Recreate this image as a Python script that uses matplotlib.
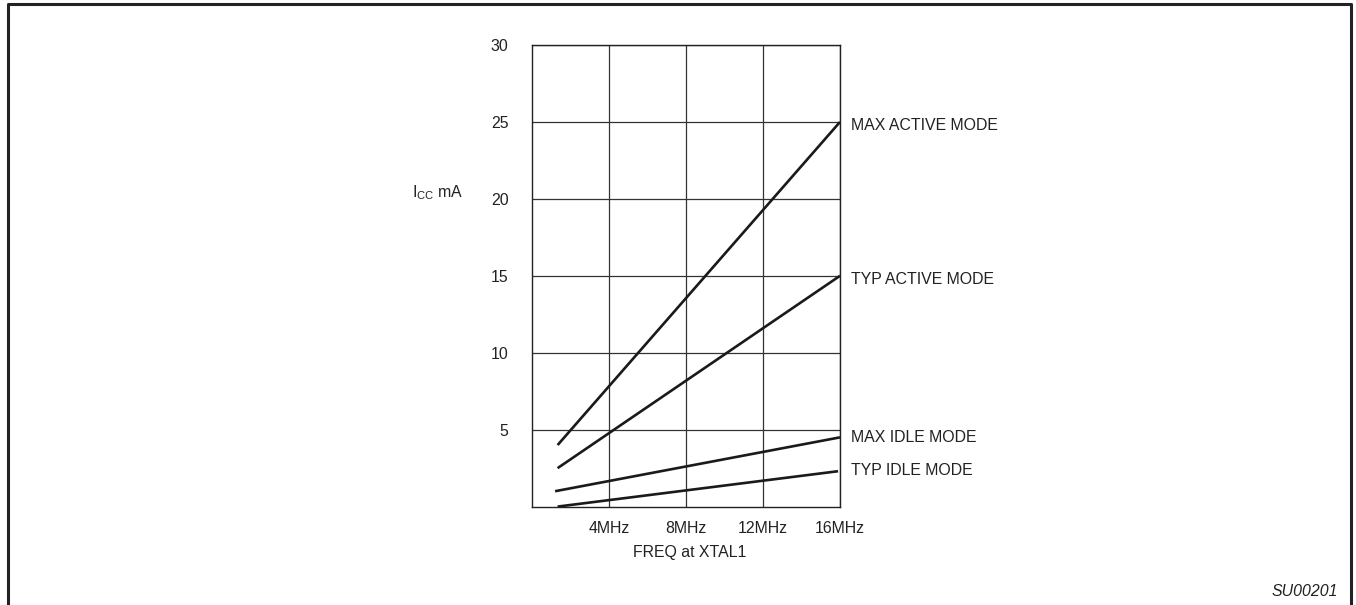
import matplotlib.pyplot as plt
from matplotlib.lines import Line2D

plt.rcParams['font.family'] = ['Liberation Sans', 'DejaVu Sans']

# frequency (MHz) of the two end points of each curve, and Icc (mA)
freq_start = [1.33, 1.33, 1.2, 1.33]
freq_end = [16, 16, 16, 15.9]
icc_start = [4.0, 2.5, 1.0, 0.0]
icc_end = [25.0, 15.0, 4.5, 2.3]
curve_names = ['MAX ACTIVE MODE', 'TYP ACTIVE MODE', 'MAX IDLE MODE', 'TYP IDLE MODE']
label_y = [24.9, 14.9, 4.6, 2.5]

x_ticks = [4, 8, 12, 16]
x_labels = ['4MHz', '8MHz', '12MHz', '16MHz']
y_ticks = [5, 10, 15, 20, 25, 30]

fig = plt.figure(figsize=(13.56, 6.05), dpi=100)
ax = fig.add_axes([532/1356, 1 - 506.6/605, (840-532)/1356, (506.6-45)/605])

ax.set_xlim(0, 16)
ax.set_ylim(0, 30)
ax.set_xticks(x_ticks)
ax.set_xticklabels(x_labels)
ax.set_yticks(y_ticks)
ax.tick_params(axis='both', length=0, labelsize=11.4, colors='#222222')
ax.tick_params(axis='y', pad=17)
ax.tick_params(axis='x', pad=10.5)
ax.grid(True, color='#333333', lw=0.9)
for s in ax.spines.values():
    s.set_color('#222222')
    s.set_linewidth(1.0)

for x0, x1, y0, y1 in zip(freq_start, freq_end, icc_start, icc_end):
    ax.plot([x0, x1], [y0, y1], color='#1a1a1a', lw=1.9, solid_capstyle='butt', clip_on=False)

for name, ly in zip(curve_names, label_y):
    ax.annotate(name, xy=(16, ly), xytext=(8, -1.5), textcoords='offset points',
                va='center', ha='left', fontsize=11.4, color='#222222', annotation_clip=False)

fig.text(412/1356, 1 - 193/605, r'I$_{\mathregular{CC}}$ mA', fontsize=11.4,
         color='#222222', va='center', ha='left')
fig.text(690/1356, 1 - 553/605, 'FREQ at XTAL1', fontsize=11.4,
         color='#222222', va='center', ha='center')
fig.text(1338/1356, 1 - 591/605, 'SU00201', fontsize=11.4, style='italic',
         color='#222222', va='center', ha='right')

# outer frame, open at the bottom
fl, fr, ft = 7.5/1356, 1351/1356, 1 - 4/605
fig.add_artist(Line2D([fl, fl, fr, fr], [0, ft, ft, 0], transform=fig.transFigure,
                      color='#222222', lw=2.2))

fig.savefig('out.png', dpi=100)
